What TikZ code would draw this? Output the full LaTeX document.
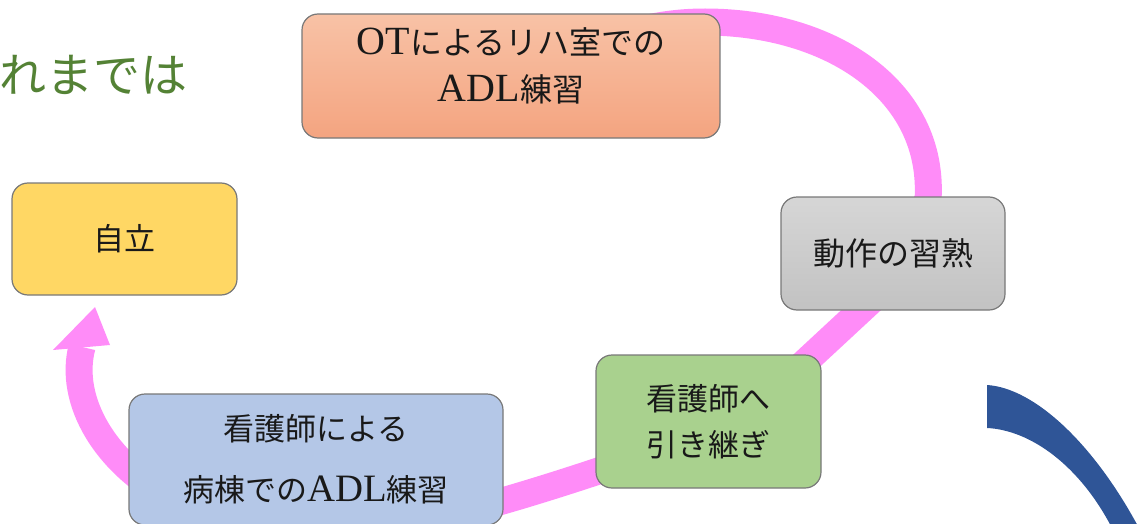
\documentclass[tikz,border=0pt]{standalone}
\usepackage{fontspec}
\setmainfont{Noto Sans CJK JP}
\newfontfamily\latn[Scale=1.25]{Liberation Serif}
\usetikzlibrary{backgrounds}
\definecolor{pinkc}{RGB}{255,140,248}
\definecolor{titlec}{RGB}{84,130,53}
\definecolor{salmontop}{RGB}{248,194,166}
\definecolor{salmonbot}{RGB}{244,164,128}
\definecolor{yellowc}{RGB}{255,215,100}
\definecolor{graytop}{RGB}{214,214,214}
\definecolor{graybot}{RGB}{194,194,194}
\definecolor{greenc}{RGB}{169,209,142}
\definecolor{bluec}{RGB}{180,199,231}
\definecolor{navyc}{RGB}{47,85,151}
\definecolor{edgec}{RGB}{120,120,120}
\begin{document}
\begin{tikzpicture}[x=1pt,y=-1pt,
  box/.style={draw=edgec, line width=1.2pt, rounded corners=16pt, inner sep=0pt, align=center, text=black!90},
  band/.style={draw=pinkc, line width=27pt, line join=round}]
\useasboundingbox (0,0) rectangle (1147,524);

% title
\node[anchor=west, inner sep=0pt, text=titlec, font=\fontsize{47}{47}\selectfont] (ttl) at (-1,75) {れまでは};

% boxes
\node[box, top color=salmontop, bottom color=salmonbot, minimum width=418pt, minimum height=124pt,
      font=\fontsize{32}{47}\selectfont] (ot) at (511,76)
      {\raisebox{7pt}[\height][\depth]{\begin{tabular}{@{}c@{}}{\latn OT}によるリハ室での\\{\latn ADL}練習\end{tabular}}};
\node[box, fill=yellowc, minimum width=225pt, minimum height=112pt,
      font=\fontsize{31}{31}\selectfont] (zr) at (124.5,239) {自立};
\node[box, top color=graytop, bottom color=graybot, minimum width=224pt, minimum height=113pt,
      font=\fontsize{32}{32}\selectfont] (dz) at (893,253.5) {動作の習熟};
\node[box, fill=greenc, minimum width=225pt, minimum height=133pt,
      font=\fontsize{31}{46}\selectfont] (hk) at (708.5,421.5) {看護師へ\\引き継ぎ};
\node[box, fill=bluec, minimum width=374pt, minimum height=131pt,
      font=\fontsize{31}{61}\selectfont] (bl) at (316,459.5) {看護師による\\病棟での{\latn ADL}練習};

% pink cycle band
\coordinate (tip) at (95,307);
\begin{scope}[on background layer]
\draw[band] (ot.center) .. controls (600,40) and (645,22) .. (705,22)
  .. controls (830,22) and (935,90) .. (928,200) -- (dz.center);
\draw[band] (dz.center) -- (872,300) -- (775,390) -- (hk.center);
\draw[band] (hk.center) -- (640,457) .. controls (590,474) and (530,494) .. (470,510) -- (bl.center);
\draw[band] (bl.center) -- (175,500) .. controls (105,465) and (68,400) .. (82,347);
\fill[pinkc] (53,350) -- (tip) -- (110,345) -- cycle;
\end{scope}

% dark blue arc
\fill[navyc] (987,385) .. controls (1035,388) and (1095,445) .. (1140,530) -- (1113,530)
  .. controls (1080,465) and (1030,430) .. (987,428) -- cycle;
\end{tikzpicture}
\end{document}
